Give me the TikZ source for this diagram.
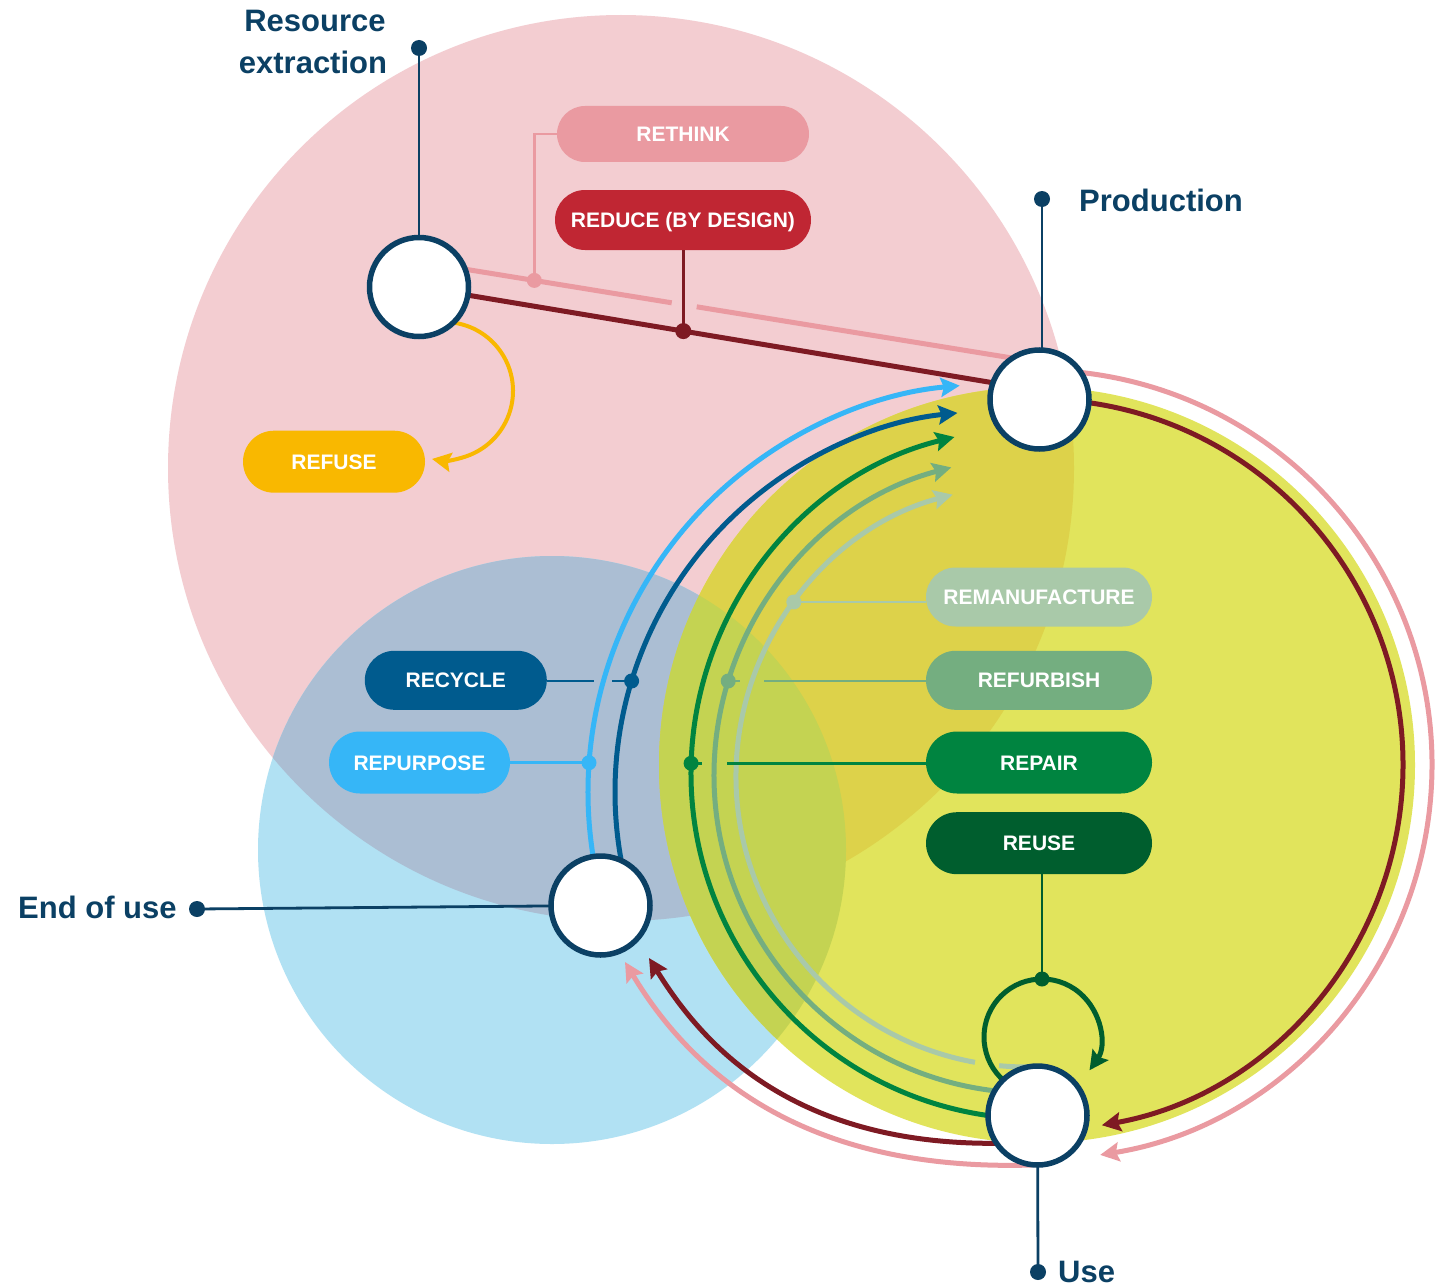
\documentclass[tikz,border=0pt]{standalone}
\usepackage{fontspec}
\setmainfont{Liberation Sans}
\usetikzlibrary{arrows.meta,shapes.misc}

\definecolor{navy}{HTML}{0B4064}
\definecolor{pinkc}{HTML}{EA9AA1}
\definecolor{reducec}{HTML}{C02633}
\definecolor{darkred}{HTML}{7E1A23}
\definecolor{refusec}{HTML}{F9B800}
\definecolor{recyclec}{HTML}{005B8E}
\definecolor{repurposec}{HTML}{36B6F7}
\definecolor{remanufc}{HTML}{A9C9A9}
\definecolor{refurbc}{HTML}{74AE80}
\definecolor{repairc}{HTML}{008440}
\definecolor{reusec}{HTML}{005E2E}
\definecolor{pinkbg}{HTML}{F3CDD1}
\definecolor{bluebg}{HTML}{B1E1F3}
\definecolor{yellowbg}{HTML}{E1E45C}
\definecolor{pbbg}{HTML}{ABBED3}
\definecolor{pybg}{HTML}{DDD24A}
\definecolor{bybg}{HTML}{C4D352}

\begin{document}
\begin{tikzpicture}[x=1pt,y=-1pt,
  stage/.style={circle,draw=navy,fill=white,line width=5.5pt,minimum size=99pt,inner sep=0pt},
  pill/.style={rounded rectangle,inner sep=0pt,text=white,font=\fontsize{21}{25}\selectfont\bfseries,text height=15pt,text depth=0pt},
  lbl/.style={text=navy,font=\fontsize{31}{36}\selectfont\bfseries,inner sep=0pt},
  pin/.style={draw=navy,line width=2.8pt},
  pindot/.style={circle,fill=navy,minimum size=16pt,inner sep=0pt},
  flow/.style={line width=5pt},
  flowtip/.style={-{Stealth[length=19pt,width=19pt,inset=3pt]}},
  conn/.style={line width=2.5pt},
  jdot/.style={circle,minimum size=15pt,inner sep=0pt},
]
\useasboundingbox (0,0) rectangle (1443,1287);
\fill[white] (0,0) rectangle (1443,1287);

% background circles
\fill[pinkbg] (621,468) circle[radius=453];
\fill[bluebg] (552,850) circle[radius=294];
\fill[yellowbg] (1037,765) circle[radius=378];
\begin{scope}
  \clip (621,468) circle[radius=453];
  \fill[pbbg] (552,850) circle[radius=294];
  \fill[pybg] (1037,765) circle[radius=378];
\end{scope}
\begin{scope}
  \clip (552,850) circle[radius=294];
  \fill[bybg] (1037,765) circle[radius=378];
\end{scope}

% stage centres
\coordinate (RE) at (419,287);
\coordinate (PR) at (1039.5,399.5);
\coordinate (EU) at (600.5,905.5);
\coordinate (US) at (1037.5,1115.5);

% labels
\node[lbl,anchor=base] (lres1) at (315,32) {Resource};
\node[lbl,anchor=base] (lres2) at (313,74) {extraction};
\node[lbl,anchor=base west] (lprod) at (1079,211) {Production};
\node[lbl,anchor=base west] (leou) at (18,918) {End of use};
\node[lbl,anchor=base west] (luse) at (1058,1282) {Use};

% pins
\node[pindot] (REdot) at (419,48) {};
\node[pindot] (PRdot) at (1042,199) {};
\node[pindot] (EUdot) at (197,909) {};
\node[pindot] (USdot) at (1038,1272) {};
\draw[pin] (REdot.center) -- (RE);
\draw[pin] (PRdot.center) -- (PRdot.center |- PR);
\draw[pin] (EUdot.center) -- (EU);
\draw[pin] (USdot.center) -- (US);

% pills
\node[pill,fill=pinkc,minimum width=252pt,minimum height=56pt] (rethink) at (683,134) {RETHINK};
\node[pill,fill=reducec,minimum width=256pt,minimum height=60pt] (reduce) at (683,220) {REDUCE (BY DESIGN)};
\node[pill,fill=refusec,minimum width=182pt,minimum height=62pt] (refuse) at (334,461.7) {REFUSE};
\node[pill,fill=recyclec,minimum width=182pt,minimum height=59pt] (recycle) at (455.8,680.3) {RECYCLE};
\node[pill,fill=repurposec,minimum width=181pt,minimum height=62pt] (repurpose) at (419.5,762.5) {REPURPOSE};
\node[pill,fill=remanufc,minimum width=226pt,minimum height=59pt] (remanuf) at (1039,597) {REMANUFACTURE};
\node[pill,fill=refurbc,minimum width=226pt,minimum height=59pt] (refurb) at (1039,680.3) {REFURBISH};
\node[pill,fill=repairc,minimum width=226pt,minimum height=62pt] (repair) at (1039,762.5) {REPAIR};
\node[pill,fill=reusec,minimum width=226pt,minimum height=62pt] (reuse) at (1039,843.2) {REUSE};

% arc centres
\coordinate (OC) at (1037,765);
\coordinate (BC) at (996,792);
\coordinate (GA) at (1037,773);
\coordinate (GB) at (1032,775);
\coordinate (GD) at (1027,776);
\coordinate (RC) at (1042,1037);
\coordinate (FC) at (444,391);

% pink (rethink) flow
\coordinate (pkA) at (440,265.1);
\coordinate (pkG1) at (671.7,302.8);
\coordinate (pkG2) at (696.7,306.8);
\coordinate (pkB) at (1012,358.0);
\draw[flow,pinkc] (pkA) -- (pkG1) (pkG2) -- (pkB);
\draw[flow,pinkc,flowtip] (OC) ++(-85:395) arc[start angle=-85,end angle=80.8,radius=395];
\coordinate (pkC) at (1032,1165);
\coordinate (pkD) at (625,962);
\draw[flow,pinkc,flowtip] (pkC) .. controls (800,1172) and (690,1070) .. (pkD);

% dark red (reduce) flow
\coordinate (drB) at (1010,385.6);
\draw[flow,darkred] (RE) -- (drB);
\draw[flow,darkred,flowtip] (OC) ++(-86:366) arc[start angle=-86,end angle=79.8,radius=366];
\coordinate (drC) at (1012,1143);
\coordinate (drD) at (649,958);
\draw[flow,darkred,flowtip] (drC) .. controls (790,1150) and (700,1040) .. (drD);

% refuse
\draw[refusec,line width=4pt,flowtip] (FC) ++(-82:69) arc[start angle=-82,end angle=100,radius=69];

% blue arcs
\draw[flow,repurposec,flowtip] (BC) ++(170:408) arc[start angle=170,end angle=264.9,radius=408];
\draw[flow,recyclec,flowtip] (BC) ++(169:381) arc[start angle=169,end angle=264.2,radius=381];

% green arcs
\draw[flow,repairc,flowtip] (GA) ++(95:346) arc[start angle=95,end angle=256.2,radius=346];
\draw[flow,refurbc,flowtip] (GB) ++(95:318) arc[start angle=95,end angle=255.3,radius=318];
\draw[flow,remanufc] (GD) ++(88:291) arc[start angle=88,end angle=95.5,radius=291];
\draw[flow,remanufc,flowtip] (GD) ++(100.3:291) arc[start angle=100.3,end angle=255.2,radius=291];

% reuse loop
\draw[flow,reusec,flowtip] (RC) ++(130:58) arc[start angle=130,end angle=395,radius=58];

% connectors and junction dots
\node[jdot,fill=pinkc] (rtdot) at (534.3,280.4) {};
\draw[conn,pinkc] (rethink.west) -| (rtdot.center);
\node[jdot,fill=darkred,minimum size=16pt] (rddot) at (683.3,331.1) {};
\draw[conn,darkred] (reduce.south -| rddot) -- (rddot.center);

\node[jdot,fill=recyclec] (rcdot) at (631.6,681) {};
\coordinate (rcg1) at (594,681);
\coordinate (rcg2) at (612,681);
\draw[conn,recyclec] (recycle.east |- rcg1) -- (rcg1) (rcg2) -- (rcdot.center);

\node[jdot,fill=repurposec] (rpdot) at (589,762.7) {};
\draw[conn,repurposec] (repurpose.east |- rpdot) -- (rpdot.center);

\node[jdot,fill=remanufc] (rmdot) at (793.8,602) {};
\draw[conn,remanufc] (rmdot.center) -- (rmdot.center -| remanuf.west);

\node[jdot,fill=refurbc] (rfdot) at (728.2,681) {};
\coordinate (rfg1) at (740,681);
\coordinate (rfg2) at (764,681);
\draw[conn,refurbc] (rfdot.center) -- (rfg1) (rfg2) -- (rfg2 -| refurb.west);

\node[jdot,fill=repairc] (rpadot) at (691.1,763.3) {};
\coordinate (rag1) at (702,763.3);
\coordinate (rag2) at (727,763.3);
\draw[conn,repairc] (rpadot.center) -- (rag1) (rag2) -- (rag2 -| repair.west);

\node[jdot,fill=reusec] (rudot) at (1042,979) {};
\draw[conn,reusec] (reuse.south -| rudot) -- (rudot.center);

% stage circles
\node[stage] (REnode) at (RE) {};
\node[stage] (PRnode) at (PR) {};
\node[stage] (EUnode) at (EU) {};
\node[stage] (USnode) at (US) {};
\end{tikzpicture}
\end{document}
